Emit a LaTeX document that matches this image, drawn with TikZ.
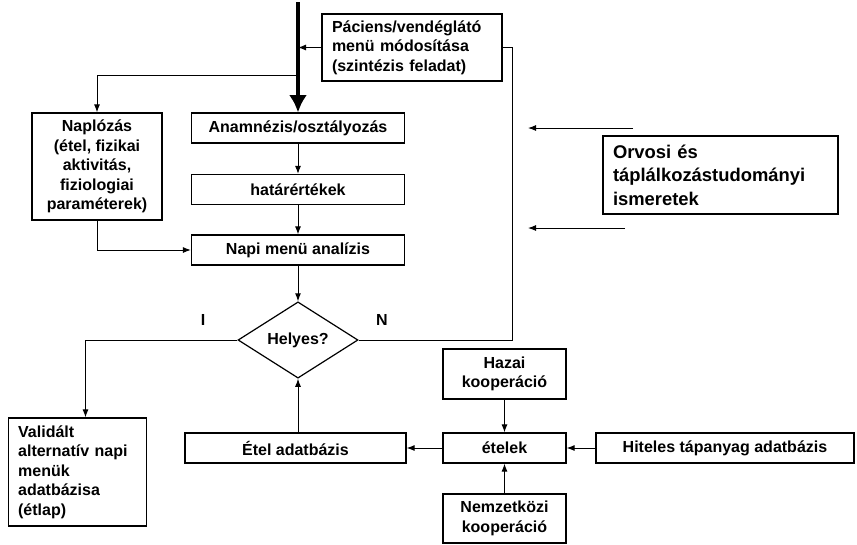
\documentclass[tikz,border=0pt]{standalone}
\usepackage{fontspec}
\setmainfont{Liberation Sans}
\usetikzlibrary{arrows.meta,shapes.geometric}
\newcommand{\boxfont}{\fontsize{12}{14.6}\selectfont\bfseries}
\newcommand{\bigfont}{\fontsize{13.8}{17.6}\selectfont\bfseries}
\tikzset{every picture/.style={line width=0.75pt}}
\tikzset{
  box/.style={draw, line width=0.9pt, align=center, font=\boxfont, inner sep=0pt, minimum height=22.5pt},
  lbox/.style={box, align=left, inner xsep=7.5pt},
  arr/.style={-{Latex[length=6pt,width=4.5pt]}},
}
\begin{document}
\begin{tikzpicture}[x=0.75pt,y=0.75pt,yscale=-1,xscale=1]
\path[use as bounding box] (0,0) rectangle (857,544);

%Shape: Rectangle
\node[lbox, text width=120pt, minimum height=50.25pt] (pac) at (412,47.5) {Páciens/vendéglátó\\menü módosítása\\(szintézis feladat)};
\node[box, minimum width=97.5pt, minimum height=80.25pt] (nap) at (97,166.5) {Naplózás\\(étel, fizikai\\aktivitás,\\fiziologiai\\paraméterek)};
\node[box, minimum width=159.75pt] (ana) at (298,128) {Anamnézis/osztályozás};
\node[box, minimum width=159.75pt] (hat) at (298,189.5) {határértékek};
\node[box, minimum width=159.75pt] (napi) at (298,250) {Napi menü analízis};
%Shape: Diamond
\node[box, diamond, minimum width=90pt, minimum height=50.25pt] (helyes) at (298,340) {Helyes?};
\node[lbox, text width=89pt, minimum height=81pt] (val) at (77.5,472) {Validált\\alternatív napi\\menük\\adatbázisa\\(étlap)};
\node[box, minimum width=165.75pt] (etel) at (295.5,448) {Étel adatbázis};
\node[box, minimum width=92.25pt] (etelek) at (504.5,448) {ételek};
\node[box, minimum width=92.25pt, minimum height=37.5pt] (hazai) at (504.5,374) {Hazai\\kooperáció};
\node[box, minimum width=92.25pt, minimum height=36.75pt] (nemz) at (504.5,518.5) {Nemzetközi\\kooperáció};
\node[box, minimum width=193.5pt] (hit) at (725,448) {Hiteles tápanyag adatbázis};
\node[lbox, text width=161.25pt, minimum height=58.5pt, font=\bigfont] (orv) at (720.5,175) {Orvosi és\\táplálkozástudományi\\ismeretek};

%Text
\node[font=\boxfont] (igen) at (203,320) {I};
\node[font=\boxfont] (nem) at (382,320) {N};

\coordinate (top) at (298,2);
\coordinate (split) at (298,75);
\coordinate (turn) at (512,47.5);
\coordinate (o1s) at (633,128);
\coordinate (o1e) at (528,128);
\coordinate (o2s) at (625,228);
\coordinate (o2e) at (528,228);

%Straight Lines
\draw[line width=3pt, -{Latex[length=13pt,width=13.5pt]}] (top) -- (ana.north);
\draw[arr] (pac.west) -- (pac.west -| top);
\draw[arr] (split) -| (nap.north);
\draw[arr] (ana) -- (hat);
\draw[arr] (hat) -- (napi);
\draw[arr] (nap.south) |- (napi.west);
\draw[arr] (napi) -- (helyes);
\draw (helyes.east) -| (turn) -- (pac.east);
\draw[arr] (helyes.west) -| ([xshift=6pt]val.north);
\draw[arr] (etel.north -| helyes.south) -- (helyes.south);
\draw[arr] (etelek) -- (etel);
\draw[arr] (hit) -- (etelek);
\draw[arr] (hazai) -- (etelek);
\draw[arr] (nemz) -- (etelek);
\draw[arr] (o1s) -- (o1e);
\draw[arr] (o2s) -- (o2e);

\end{tikzpicture}
\end{document}
